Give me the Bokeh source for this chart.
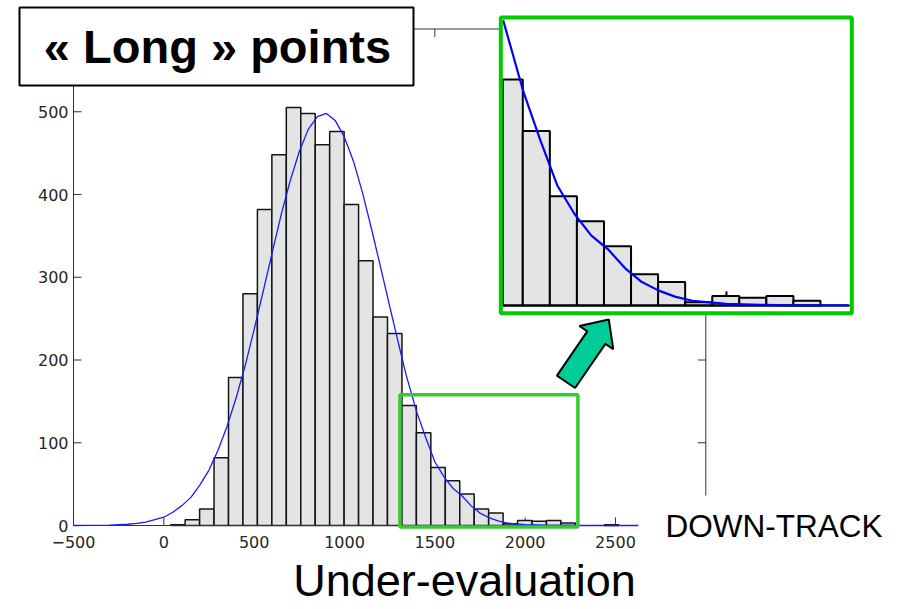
import math
from bokeh.plotting import figure
from bokeh.models import Range1d, FixedTicker, BoxAnnotation, Label
from bokeh.embed import file_html
from bokeh.resources import INLINE

# ---------------- data ----------------
BIN_LEFT = [38, 118, 198, 278, 358, 438, 518, 598, 678, 758, 838, 918, 998, 1078,
            1158, 1238, 1318, 1398, 1478, 1558, 1638, 1718, 1798, 1878, 1958, 2038,
            2118, 2198, 2278, 2358, 2438]
BIN_WIDTH = 80
COUNTS = [1, 7, 20, 82, 179, 280, 382, 448, 505, 498, 460, 476, 388, 320, 252, 232,
          145, 112, 70, 54, 38, 20, 15, 2, 6, 5, 6, 3, 0, 0, 1]

CURVE_X = [-500, -300, -200, -150, -100, -50, 0, 50, 100, 150, 200, 250, 300, 350,
           400, 450, 500, 550, 600, 650, 700, 750, 800, 850, 900, 950, 1000, 1050,
           1100, 1150, 1200, 1250, 1300, 1340, 1400, 1450, 1500, 1550, 1600, 1650,
           1700, 1750, 1800, 1850, 1900, 1950, 2000, 2100, 2200, 2360, 2500, 2625]
CURVE_Y = [0, 0.5, 1.5, 2.5, 4, 7, 10, 16, 24, 34, 49, 67, 91, 120,
           154, 193, 237, 283, 330, 376, 417, 452, 479, 494, 498, 489, 469, 440,
           402, 358, 312, 265, 219, 183, 137, 106, 77, 59, 45, 36,
           24, 15, 9.5, 5.5, 3, 2, 1, 0.4, 0, 0, 0, 0]

X_TICKS = [-500, 0, 500, 1000, 1500, 2000, 2500]
Y_TICKS = [0, 100, 200, 300, 400, 500]
X_LIM = (-500, 3000)
Y_LIM = (0, 600)

ZOOM_BOX = (1307, 2292, -1.8, 158)      # highlighted region on the main axes
INSET_X = (1338.9, 2364.7)              # region shown enlarged in the inset
INSET_Y = (-3.7, 183.5)

TITLE = "« Long » points"
XLABEL = "Under-evaluation"
SIDE_LABEL = "DOWN-TRACK"

# ---------------- layout (image pixels) ----------------
W, H = 899, 609
AX_L_PX, AX_R_PX, AX_T_PX, AX_B_PX = 73, 705.3, 28.5, 525
IN_L_PX, IN_R_PX, IN_T_PX, IN_B_PX = 502.3, 849.3, 19, 310.7
TICK_PX = 8
INSET_TICK_PX = 14

SX = (AX_R_PX - AX_L_PX) / (X_LIM[1] - X_LIM[0])
SY = (AX_B_PX - AX_T_PX) / (Y_LIM[1] - Y_LIM[0])
ISX = (IN_R_PX - IN_L_PX) / (INSET_X[1] - INSET_X[0])
ISY = (IN_B_PX - IN_T_PX) / (INSET_Y[1] - INSET_Y[0])


def px_x(px):
    return X_LIM[0] + (px - AX_L_PX) / SX


def px_y(py):
    return Y_LIM[0] + (AX_B_PX - py) / SY


def ipx_x(px):
    return INSET_X[0] + (px - IN_L_PX) / ISX


def ipx_y(py):
    return INSET_Y[0] + (IN_B_PX - py) / ISY


AXIS_COL = "#333333"
LABEL_COL = "#262626"
BAR_FILL = "#E4E4E4"
CURVE_COL = "#1a1aff"

p = figure(width=W, height=H,
           x_range=Range1d(px_x(0), px_x(W)),
           y_range=Range1d(px_y(H), px_y(0)),
           output_backend="svg", toolbar_location=None,
           min_border_left=0, min_border_right=0,
           min_border_top=0, min_border_bottom=0)
p.extra_x_ranges = {"ix": Range1d(ipx_x(0), ipx_x(W))}
p.extra_y_ranges = {"iy": Range1d(ipx_y(H), ipx_y(0))}
p.outline_line_color = None
p.background_fill_color = "white"
p.border_fill_color = "white"
p.xgrid.visible = False
p.ygrid.visible = False

for ax, ticks, bounds, loc in ((p.xaxis[0], X_TICKS, (X_LIM[0], CURVE_X[-1]), Y_LIM[0]),
                               (p.yaxis[0], Y_TICKS, Y_LIM, X_LIM[0])):
    ax.fixed_location = loc
    ax.ticker = FixedTicker(ticks=ticks)
    ax.bounds = bounds
    ax.major_tick_in = 0
    ax.major_tick_out = 0
    ax.minor_tick_in = 0
    ax.minor_tick_out = 0
    ax.axis_line_color = AXIS_COL
    ax.axis_line_width = 1
    ax.major_label_text_font = "DejaVu Sans"
    ax.major_label_text_font_size = "16px"
    ax.major_label_text_color = LABEL_COL
p.xaxis.major_label_standoff = 10
p.yaxis.major_label_standoff = 5

# ---- tick marks and box lines of the main axes (inside ticks) ----
tx, ty = TICK_PX / SX, TICK_PX / SY
sx0, sy0, sx1, sy1 = [], [], [], []
for t in X_TICKS:
    sx0 += [t, t]; sx1 += [t, t]
    sy0 += [Y_LIM[0], Y_LIM[1]]; sy1 += [Y_LIM[0] + ty, Y_LIM[1] - ty]
for t in Y_TICKS:
    sy0 += [t, t]; sy1 += [t, t]
    sx0 += [X_LIM[0], X_LIM[1]]; sx1 += [X_LIM[0] + tx, X_LIM[1] - tx]
sx0 += [X_LIM[0], X_LIM[1]]; sx1 += [X_LIM[1], X_LIM[1]]
sy0 += [Y_LIM[1], Y_LIM[0]]; sy1 += [Y_LIM[1], Y_LIM[1]]
p.segment(sx0, sy0, sx1, sy1, line_color=AXIS_COL, line_width=1)

# ---- main histogram ----
bl = [l for l, c in zip(BIN_LEFT, COUNTS) if c > 0]
bc = [c for c in COUNTS if c > 0]
p.quad(left=bl, right=[l + BIN_WIDTH for l in bl], bottom=0, top=bc,
       fill_color=BAR_FILL, line_color="#141414", line_width=1.5)
p.line(CURVE_X, CURVE_Y, line_color=CURVE_COL, line_width=1.3)

# ---- highlighted region ----
p.add_layout(BoxAnnotation(left=ZOOM_BOX[0], right=ZOOM_BOX[1], bottom=ZOOM_BOX[2],
                           top=ZOOM_BOX[3], fill_alpha=0, line_color="#33CC33",
                           line_alpha=1, line_width=3.5))

# ---- inset ----
BW = 2  # half of border width, px
p.quad(left=[ipx_x(IN_L_PX - BW)], right=[ipx_x(IN_R_PX + BW)],
       bottom=[ipx_y(IN_B_PX + BW)], top=[ipx_y(IN_T_PX - BW)],
       fill_color="white", line_color=None, x_range_name="ix", y_range_name="iy")
it = [t for t in X_TICKS if INSET_X[0] < t < INSET_X[1]]
p.segment(it, [0] * len(it), it, [INSET_TICK_PX / ISY] * len(it), line_color="black",
          line_width=2, x_range_name="ix", y_range_name="iy")
il, ir, ic = [], [], []
for l, c in zip(BIN_LEFT, COUNTS):
    r = l + BIN_WIDTH
    if c > 0 and r > INSET_X[0] and l < INSET_X[1]:
        il.append(max(l, INSET_X[0])); ir.append(min(r, INSET_X[1])); ic.append(c)
p.quad(left=il, right=ir, bottom=0, top=ic, fill_color=BAR_FILL, line_color="black",
       line_width=2, x_range_name="ix", y_range_name="iy")
p.segment([INSET_X[0]], [0], [INSET_X[1]], [0], line_color="black", line_width=2,
          x_range_name="ix", y_range_name="iy")
keep = [(x, y) for x, y in zip(CURVE_X, CURVE_Y)
        if INSET_X[0] <= x <= INSET_X[1] and y <= INSET_Y[1]]
p.line([k[0] for k in keep], [k[1] for k in keep], line_color="#0000ff",
       line_width=2.2, x_range_name="ix", y_range_name="iy")
p.quad(left=[ipx_x(IN_L_PX - BW)], right=[ipx_x(IN_R_PX + BW)],
       bottom=[ipx_y(IN_B_PX + BW)], top=[ipx_y(IN_T_PX - BW)],
       fill_alpha=0, line_color="#00CC00", line_width=4,
       x_range_name="ix", y_range_name="iy")

# ---- arrow ----
TAIL, TIP = (565.5, 381.3), (608.3, 319.0)
SHAFT_W, HEAD_W, HEAD_L = 22, 41, 22
dx, dy = TIP[0] - TAIL[0], TIP[1] - TAIL[1]
n = math.hypot(dx, dy)
ux, uy = dx / n, dy / n
nx, ny = -uy, ux
bx, by = TIP[0] - HEAD_L * ux, TIP[1] - HEAD_L * uy
pts = [(TAIL[0] + nx * SHAFT_W / 2, TAIL[1] + ny * SHAFT_W / 2),
       (bx + nx * SHAFT_W / 2, by + ny * SHAFT_W / 2),
       (bx + nx * HEAD_W / 2, by + ny * HEAD_W / 2),
       TIP,
       (bx - nx * HEAD_W / 2, by - ny * HEAD_W / 2),
       (bx - nx * SHAFT_W / 2, by - ny * SHAFT_W / 2),
       (TAIL[0] - nx * SHAFT_W / 2, TAIL[1] - ny * SHAFT_W / 2)]
p.patch([px_x(a) for a, b in pts], [px_y(b) for a, b in pts],
        fill_color="#00CC99", line_color="black", line_width=2)

# ---- texts and boxes ----
p.add_layout(BoxAnnotation(left=px_x(640), right=px_x(W), top=px_y(495),
                           bottom=px_y(560), fill_color="white", fill_alpha=1,
                           line_color=None))
p.add_layout(Label(x=px_x(665), y=px_y(525), text=SIDE_LABEL,
                   text_font="Liberation Sans", text_font_size="31.5px",
                   text_color="black", text_align="left", text_baseline="alphabetic"))
p.add_layout(Label(x=px_x(464), y=px_y(580), text=XLABEL,
                   text_font="Liberation Sans", text_font_size="45px",
                   text_color="black", text_align="center", text_baseline="alphabetic"))
p.add_layout(BoxAnnotation(left=px_x(19), right=px_x(413), top=px_y(7),
                           bottom=px_y(85), fill_color="white", fill_alpha=1,
                           line_color="black", line_alpha=1, line_width=2))
p.add_layout(Label(x=px_x(217), y=px_y(46), text=TITLE,
                   text_font="Liberation Sans", text_font_size="47px",
                   text_font_style="bold", text_color="black",
                   text_align="center", text_baseline="alphabetic"))

open("out.html", "w").write(file_html(p, INLINE))
